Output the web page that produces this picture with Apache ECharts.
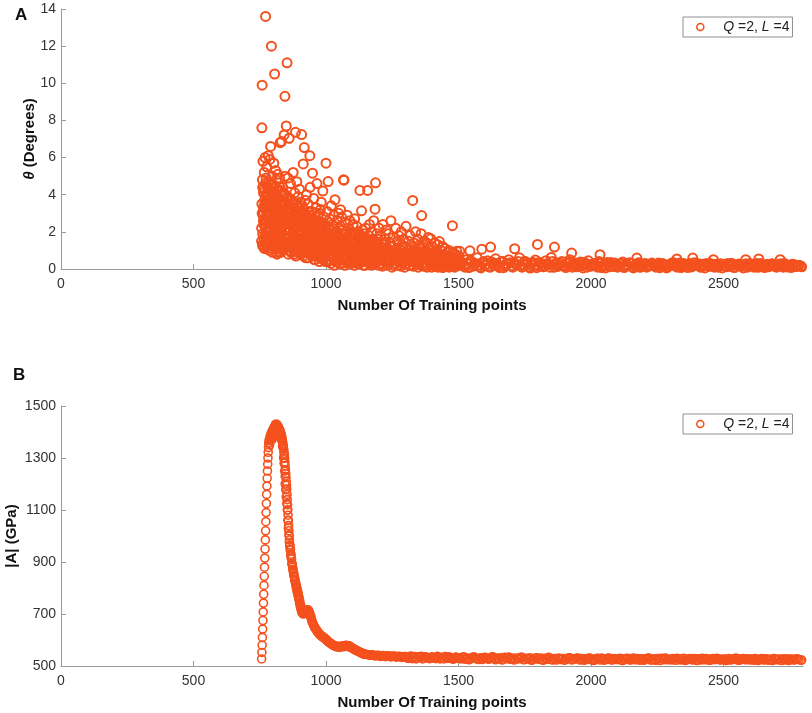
<!DOCTYPE html>
<html>
<head>
<meta charset="utf-8">
<script src="https://cdn.jsdelivr.net/npm/echarts@6/dist/echarts.min.js"></script>
<style>html,body{margin:0;padding:0;background:#fff}#c{width:812px;height:713px}</style>
</head>
<body>
<div id="c"></div>
<script>
// ---------- data ----------
const legendLabel = 'Q =2, L =4';
const xTicks = [0, 500, 1000, 1500, 2000, 2500];
const thetaTicks = [0, 2, 4, 6, 8, 10, 12, 14];
const modTicks = [500, 700, 900, 1100, 1300, 1500];

// theta (degrees) vs number of training points, panel A
const thetaA = [[757,2.2],[758,7.6],[759,9.9],[760,4.8],[761,1.9],[762,5.8],[763,3.1],[764,2.6],[765,4.3],[766,1.6],
[767,5.2],[768,3.7],[769,2.4],[770,6.0],[771,1.4],[772,13.6],[773,3.3],[774,4.9],[775,2.0],[776,5.5],
[777,1.2],[778,3.9],[779,2.8],[780,4.4],[781,1.7],[782,6.1],[783,3.0],[784,2.2],[785,4.7],[786,1.0],
[787,3.6],[788,5.9],[789,2.5],[790,1.4],[791,6.6],[792,4.1],[793,2.9],[794,12.0],[795,1.8],[796,3.4],
[797,5.0],[798,0.9],[799,2.7],[800,4.5],[801,3.8],[802,1.3],[803,5.7],[804,2.1],[805,3.2],[806,10.5],
[807,4.0],[808,1.6],[809,2.4],[810,5.3],[811,1.1],[812,3.5],[813,4.8],[814,2.6],[815,0.8],[816,3.9],
[817,1.9],[818,5.1],[819,2.9],[820,4.3],[821,1.2],[822,3.1],[823,2.2],[824,4.9],[825,1.5],[826,3.6],
[827,6.8],[828,2.8],[829,0.9],[830,4.2]];
const thetaA2 = [[758,3.5],[760,1.3],[762,2.9],[764,4.1],[766,3.3],[768,1.1],[770,2.7],[772,4.0],[774,1.5],[776,3.0],
[778,2.0],[780,1.2],[782,3.7],[784,4.3],[786,2.6],[788,1.8],[790,3.1],[792,2.0],[794,4.6],[796,1.1],
[798,3.8],[800,2.3],[802,4.2],[804,1.4],[806,2.8],[808,3.6],[810,1.9],[812,0.9],[814,4.0],[816,2.3],
[818,1.4],[820,3.3],[822,0.9],[824,2.0],[826,4.4],[828,1.7],[830,3.0]];
const thetaA3 = [[757,1.5],[759,3.0],[761,4.4],[763,1.2],[765,2.4],[767,3.4],[769,1.8],[771,4.6],[773,2.2],[775,3.6],
[777,2.5],[779,1.5],[781,4.0],[783,2.0],[785,3.0],[787,1.4],[789,4.2],[791,2.2],[793,3.5],[795,2.7],
[797,1.6],[799,3.9],[801,2.4],[803,1.8],[805,4.4],[807,2.7],[809,3.3],[811,2.0],[813,1.4],[815,3.0],
[817,4.2],[819,1.8],[821,2.6],[823,3.8],[825,2.4],[827,1.2],[829,3.4]];
const thetaB = [[832,6.86],[834,2.3],[836,4.4],[838,1.0],[840,3.0],[842,7.22],[844,1.8],[845,9.3],[846,5.0],[848,2.6],
[850,7.7],[851,1.3],[853,11.1],[854,3.3],[856,4.9],[858,0.8],[860,2.1],[861,7.04],[862,3.8],[864,1.5],
[866,4.6],[868,2.7],[870,0.9],[872,3.5],[874,1.9],[876,5.2],[878,2.4],[880,1.2],[882,4.1],[884,3.0],
[885,7.36],[886,0.7],[888,2.2],[890,4.7],[892,1.6],[894,3.3],[896,2.8],[898,1.0],[900,4.3],[902,2.0],
[904,3.6],[906,0.8],[908,7.24],[910,2.5],[912,1.4],[914,5.66],[916,3.2],[918,6.54],[920,1.8],[922,2.9],
[924,0.6],[926,4.0],[928,2.3],[930,1.2],[932,3.5],[934,1.7],[936,2.7],[938,0.9],[939,6.1],[940,4.4],
[942,2.1],[944,1.4],[946,3.1],[948,0.7],[949,5.16],[950,2.4],[952,1.8],[954,3.8],[956,1.1],[958,2.6],
[960,0.5],[962,3.3],[964,1.9],[966,4.6],[968,1.3],[970,2.2],[972,0.8],[974,3.0],[976,1.6],[978,2.5],
[980,0.6],[982,3.6],[984,1.2],[986,2.0],[988,4.2],[990,0.9],[992,2.8],[994,1.5],[996,2.3],[998,0.4],[1000,5.7]];
const thetaB2 = [[833,2.0],[835,3.4],[837,1.4],[839,2.8],[841,4.1],[843,1.1],[847,3.6],[849,2.2],[852,1.7],[855,3.9],
[857,2.5],[859,1.2],[863,3.1],[865,2.0],[867,0.9],[869,3.7],[871,1.6],[873,2.6],[875,1.3],[877,3.3],
[879,2.1],[881,0.8],[883,2.9],[887,1.7],[889,3.5],[891,1.1],[893,2.4],[895,3.9],[897,1.5],[899,2.7],
[901,0.9],[903,3.0],[905,1.8],[907,2.3],[909,1.2],[911,3.4],[913,2.0],[915,0.7],[917,2.6],[919,1.5],
[921,3.7],[923,2.1],[925,1.0],[927,2.8],[929,1.7],[931,0.6],[933,2.4],[935,3.1],[937,1.3],[941,1.9],
[943,2.9],[945,0.8],[947,2.2],[951,1.4],[953,2.7],[955,0.5],[957,1.9],[959,3.0],[961,1.2],[963,2.3],
[965,0.7],[967,1.6],[969,2.9],[971,1.0],[973,2.0],[975,0.4],[977,1.4],[979,3.2],[981,1.8],[983,0.9],
[985,2.5],[987,1.3],[989,0.5],[991,1.9],[993,2.4],[995,0.8],[997,1.6],[999,1.1]];
const thetaB3 = [[831,1.6],[833,3.7],[835,1.0],[837,2.6],[839,4.0],[841,1.5],[843,2.5],[847,1.2],[849,3.8],[852,2.8],
[855,1.6],[857,3.5],[859,2.2],[863,1.0],[865,3.0],[867,2.4],[869,1.3],[871,3.2],[873,1.1],[875,2.2],
[877,1.6],[879,3.5],[881,2.6],[883,1.4],[887,3.0],[889,1.2],[891,2.6],[893,1.9],[895,0.9],[897,3.3],
[899,1.8],[901,2.6],[903,1.2],[905,3.1],[907,1.6],[909,2.9],[911,0.9],[913,2.4],[915,1.7],[917,3.0],
[919,1.1],[921,2.2],[923,1.5],[925,2.7],[927,0.9],[929,2.5],[931,1.9],[933,1.1],[935,2.2],[937,0.8],
[941,2.6],[943,1.2],[945,2.0],[947,1.5],[951,2.5],[953,0.9],[955,1.7],[957,2.3],[959,1.0],[961,2.1],
[963,1.4],[965,2.6],[967,0.7],[969,1.8],[971,2.4],[973,1.2],[975,1.9],[977,0.8],[979,1.5],[981,2.2],
[983,1.6],[985,0.7],[987,2.0],[989,1.4],[991,0.6],[993,1.7],[995,2.1],[997,1.0],[999,1.8]];
const thetaC = [[1002,1.7],[1004,3.1],[1006,0.8],[1008,4.71],[1010,2.2],[1012,1.3],[1014,2.7],[1016,0.5],[1018,1.9],[1020,3.4],
[1022,1.0],[1024,2.4],[1026,0.7],[1028,1.6],[1030,2.9],[1032,1.2],[1034,3.73],[1036,0.4],[1038,2.0],[1040,1.4],
[1042,2.6],[1044,0.9],[1046,1.8],[1048,3.0],[1050,0.3],[1052,1.5],[1054,2.3],[1055,3.19],[1056,1.1],[1058,2.8],
[1060,0.6],[1062,1.7],[1064,2.1],[1066,4.8],[1068,4.78],[1070,1.3],[1072,2.5],[1074,0.5],[1076,1.9],[1078,1.0],
[1080,2.9],[1082,1.6],[1084,0.3],[1086,2.2],[1088,1.2],[1090,2.6],[1092,0.8],[1094,1.8],[1096,2.0],[1098,0.4],
[1100,1.4],[1102,2.4],[1104,1.1],[1106,0.6],[1108,2.7],[1110,1.5],[1112,0.9],[1114,1.9],[1116,2.3],[1118,0.3],
[1120,1.3],[1122,2.0],[1124,0.7],[1126,1.6],[1128,4.23],[1130,1.0],[1132,0.4],[1134,3.13],[1136,1.7],[1138,2.1],
[1140,0.6],[1142,1.2],[1144,1.9],[1146,0.2],[1148,1.4],[1150,2.2],[1152,0.8],[1154,1.5],[1157,4.23],[1158,1.1],
[1160,1.8],[1162,0.4],[1164,2.4],[1166,1.0],[1168,1.3],[1170,0.6],[1172,2.0],[1174,1.6],[1176,0.3],[1178,1.2],
[1180,2.6],[1182,0.9],[1185,3.22],[1187,4.64],[1188,1.4],[1190,0.5],[1192,1.9],[1194,1.1],[1196,0.7],[1198,1.6],[1200,2.2]];
const thetaC2 = [[1001,0.9],[1003,2.0],[1005,1.3],[1007,0.4],[1009,1.6],[1011,2.5],[1013,0.7],[1015,1.2],[1017,2.1],[1019,0.3],
[1021,1.5],[1023,1.9],[1025,0.6],[1027,1.1],[1029,2.3],[1031,0.2],[1033,1.4],[1035,1.8],[1037,0.8],[1039,1.0],
[1041,2.0],[1043,0.4],[1045,1.3],[1047,1.7],[1049,0.6],[1051,2.2],[1053,0.9],[1057,1.5],[1059,0.3],[1061,1.2],
[1063,1.9],[1065,0.5],[1067,1.0],[1069,1.6],[1071,0.2],[1073,1.4],[1075,2.0],[1077,0.7],[1079,1.1],[1081,0.4],
[1083,1.7],[1085,1.2],[1087,0.5],[1089,1.9],[1091,0.9],[1093,1.4],[1095,0.3],[1097,1.1],[1099,1.6],[1101,0.6],
[1103,1.0],[1105,1.8],[1107,0.2],[1109,1.3],[1111,0.8],[1113,1.5],[1115,0.4],[1117,1.1],[1119,1.7],[1121,0.6],
[1123,0.9],[1125,1.4],[1127,0.3],[1129,1.2],[1131,1.8],[1133,0.5],[1135,1.0],[1137,0.7],[1139,1.5],[1141,0.2],
[1143,1.1],[1145,0.8],[1147,1.6],[1149,0.4],[1151,1.0],[1153,1.3],[1155,0.6],[1159,0.9],[1161,1.5],[1163,0.3],
[1165,1.1],[1167,0.7],[1169,1.4],[1171,0.2],[1173,0.9],[1175,1.2],[1177,0.5],[1179,1.6],[1181,0.8],[1183,1.1],
[1184,0.3],[1186,1.3],[1189,0.6],[1191,1.0],[1193,0.4],[1195,1.4],[1197,0.9],[1199,0.2]];
const thetaD = [[1203,0.6],[1206,1.8],[1209,1.0],[1212,0.3],[1215,2.4],[1218,1.3],[1221,0.7],[1224,1.6],[1227,2.1],[1230,0.4],
[1233,1.1],[1236,1.9],[1239,0.8],[1242,1.4],[1245,2.6],[1248,0.5],[1251,1.2],[1254,1.7],[1257,0.2],[1260,1.0],
[1263,2.2],[1266,0.9],[1269,1.5],[1272,0.4],[1275,1.8],[1278,1.1],[1281,0.6],[1284,2.0],[1287,1.3],[1290,0.3],
[1293,1.6],[1296,0.8],[1299,1.2],[1302,2.3],[1305,0.5],[1308,1.0],[1311,1.5],[1314,0.2],[1317,1.8],[1320,0.7],
[1323,1.2],[1327,3.69],[1329,0.9],[1332,1.4],[1335,0.4],[1338,2.0],[1341,1.1],[1344,0.6],[1347,1.6],[1350,0.3],
[1353,1.3],[1356,0.8],[1359,1.9],[1361,2.88],[1362,0.5],[1365,1.2],[1368,0.9],[1371,1.5],[1374,0.2],[1377,1.0],
[1380,1.4],[1383,0.6],[1386,1.7],[1389,0.4],[1392,1.1],[1395,1.63],[1398,0.7],[1401,1.2],[1404,0.3],[1407,0.9],
[1410,1.4],[1413,0.5],[1416,1.0],[1419,0.2],[1422,1.3],[1425,0.7],[1428,1.48],[1431,0.4],[1434,1.0],[1437,0.6],
[1440,1.2],[1443,0.3],[1446,0.8],[1449,1.1],[1452,0.5],[1455,0.2],[1458,0.9],[1461,0.6],[1464,1.0],[1467,0.3],
[1470,0.7],[1473,0.5],[1477,2.33],[1479,0.9],[1482,0.2],[1485,0.6],[1488,0.8],[1491,0.4],[1494,0.95],[1497,0.3],[1500,0.7]];
const thetaD2 = [[1201,0.9],[1204,0.3],[1207,1.2],[1210,0.6],[1213,0.15],[1216,0.9],[1219,1.4],[1222,0.4],[1225,0.8],[1228,1.1],
[1231,0.2],[1234,0.7],[1237,1.0],[1240,0.35],[1243,0.6],[1246,1.2],[1249,0.1],[1252,0.8],[1255,0.5],[1258,1.0],
[1261,0.3],[1264,0.6],[1267,1.1],[1270,0.2],[1273,0.7],[1276,0.45],[1279,0.9],[1282,0.15],[1285,0.6],[1288,1.0],
[1291,0.4],[1294,0.7],[1297,0.1],[1300,0.9],[1303,0.5],[1306,0.3],[1309,0.8],[1312,0.55],[1315,1.0],[1318,0.2],
[1321,0.6],[1324,0.4],[1326,0.9],[1330,0.15],[1333,0.7],[1336,1.0],[1339,0.3],[1342,0.5],[1345,0.85],[1348,0.1],
[1351,0.6],[1354,0.4],[1357,0.9],[1360,0.2],[1363,0.7],[1366,0.5],[1369,0.15],[1372,0.8],[1375,0.35],[1378,0.6],
[1381,0.1],[1384,0.7],[1387,0.45],[1390,0.85],[1393,0.25],[1396,0.5],[1399,0.1],[1402,0.7],[1405,0.4],[1408,0.6],
[1411,0.15],[1414,0.75],[1417,0.35],[1420,0.5],[1423,0.1],[1426,0.6],[1429,0.3],[1432,0.7],[1435,0.2],[1438,0.45],
[1441,0.08],[1444,0.55],[1447,0.3],[1450,0.65],[1453,0.15],[1456,0.4],[1459,0.25],[1462,0.5],[1465,0.1],[1468,0.45],
[1471,0.3],[1474,0.6],[1476,0.15],[1480,0.4],[1483,0.55],[1486,0.1],[1489,0.35],[1492,0.6],[1495,0.2],[1498,0.45]];
const thetaE = [[1505,0.95],[1510,0.3],[1520,0.15],[1530,0.5],[1540,0.08],[1543,0.98],[1550,0.4],[1560,0.25],[1570,0.6],[1580,0.12],
[1588,1.07],[1590,0.35],[1600,0.2],[1610,0.45],[1620,0.1],[1621,1.18],[1630,0.3],[1640,0.55],[1650,0.18],[1660,0.38],
[1670,0.07],[1680,0.28],[1690,0.5],[1700,0.15],[1710,0.33],[1712,1.09],[1720,0.22],[1730,0.6],[1740,0.1],[1750,0.42],
[1760,0.26],[1770,0.05],[1780,0.36],[1790,0.48],[1798,1.32],[1800,0.18],[1810,0.3],[1820,0.12],[1830,0.45],[1840,0.24],
[1850,0.62],[1860,0.09],[1862,1.18],[1870,0.34],[1880,0.2],[1890,0.4],[1900,0.14],[1910,0.28],[1920,0.5],[1927,0.86],
[1930,0.1],[1940,0.32],[1950,0.2],[1960,0.38],[1970,0.06],[1980,0.26],[1990,0.44],[2000,0.15],[2010,0.3],[2020,0.18],
[2030,0.4],[2034,0.77],[2040,0.08],[2050,0.25],[2060,0.35],[2070,0.12],[2080,0.22],[2090,0.32],[2100,0.1],[2110,0.27],
[2120,0.38],[2130,0.14],[2140,0.2],[2150,0.3],[2160,0.06],[2170,0.24],[2173,0.59],[2180,0.34],[2190,0.16],[2200,0.28],
[2210,0.1],[2220,0.22],[2230,0.32],[2240,0.18],[2250,0.26],[2260,0.07],[2270,0.3],[2280,0.2],[2290,0.12],[2300,0.28],
[2310,0.35],[2320,0.15],[2324,0.54],[2330,0.24],[2340,0.08],[2350,0.3],[2360,0.19],[2370,0.27],[2380,0.11],[2384,0.59],
[2390,0.33],[2400,0.2],[2410,0.14],[2420,0.26],[2430,0.06],[2440,0.22],[2450,0.3],[2460,0.17],[2462,0.5],[2470,0.25],
[2480,0.1],[2490,0.28],[2500,0.19],[2510,0.12],[2520,0.24],[2530,0.31],[2540,0.08],[2550,0.2],[2560,0.27],[2570,0.15],
[2580,0.22],[2584,0.5],[2590,0.1],[2600,0.29],[2610,0.18],[2620,0.25],[2630,0.09],[2633,0.54],[2640,0.3],[2650,0.16],
[2660,0.23],[2670,0.12],[2680,0.27],[2690,0.2],[2700,0.1],[2710,0.24],[2714,0.5],[2720,0.15],[2730,0.3],[2740,0.11],
[2750,0.2],[2760,0.26],[2770,0.13],[2780,0.18],[2792,0.16]];
const thetaE2x = [1505,1515,1525,1535,1545,1555,1565,1575,1585,1595,1605,1615,1625,1635,1645,1655,1665,1675,1685,1695,
1705,1715,1725,1735,1745,1755,1765,1775,1785,1795,1805,1815,1825,1835,1845,1855,1865,1875,1885,1895,
1905,1915,1925,1935,1945,1955,1965,1975,1985,1995,2005,2015,2025,2035,2045,2055,2065,2075,2085,2095,
2105,2115,2125,2135,2145,2155,2165,2175,2185,2195,2205,2215,2225,2235,2245,2255,2265,2275,2285,2295,
2305,2315,2325,2335,2345,2355,2365,2375,2385,2395,2405,2415,2425,2435,2445,2455,2465,2475,2485,2495,
2505,2515,2525,2535,2545,2555,2565,2575,2585,2595,2605,2615,2625,2635,2645,2655,2665,2675,2685,2695,
2705,2715,2725,2735,2745,2755,2765,2775,2785,2795];
const thetaE2y = [0.2,0.35,0.1,0.28,0.45,0.15,0.3,0.22,0.06,0.4, 0.25,0.12,0.38,0.2,0.3,0.08,0.42,0.18,0.26,0.34,
0.1,0.28,0.4,0.16,0.24,0.35,0.12,0.3,0.2,0.07, 0.36,0.22,0.15,0.3,0.1,0.4,0.25,0.14,0.32,0.2,
0.08,0.35,0.2,0.27,0.12,0.3,0.18,0.36,0.1,0.24, 0.2,0.28,0.1,0.32,0.16,0.06,0.26,0.35,0.14,0.22,
0.18,0.3,0.08,0.24,0.34,0.12,0.2,0.28,0.09,0.22, 0.3,0.14,0.2,0.26,0.1,0.32,0.16,0.24,0.06,0.2,
0.2,0.27,0.1,0.32,0.16,0.22,0.08,0.3,0.18,0.24, 0.28,0.09,0.2,0.3,0.14,0.22,0.1,0.26,0.17,0.06,
0.2,0.3,0.14,0.22,0.1,0.26,0.18,0.06,0.28,0.16, 0.24,0.1,0.3,0.16,0.22,0.08,0.26,0.18,0.28,0.14,
0.2,0.28,0.1,0.22,0.16,0.08,0.24,0.14,0.2,0.12];

// |A| (GPa) vs number of training points, panel B
const modRise = [[757,527],[758,552],[759,580],[760,610],[761,642],[762,675],[763,708],[764,742],[765,776],[766,810],
[767,845],[768,880],[769,915],[770,950],[771,985],[772,1020],[773,1055],[774,1090],[775,1125],[776,1160],
[777,1192],[778,1222],[779,1250],[780,1276],[781,1300],[782,1322],[783,1340],[784,1356],[785,1368],[787,1350],
[789,1380],[791,1372],[793,1392],[795,1385],[797,1400],[799,1395],[801,1410],[803,1405],[805,1418],[807,1415],
[809,1425],[811,1428],[813,1428]];
const modPeak = [[786,1360],[788,1372],[790,1385],[792,1378],[794,1398],[796,1390],[798,1405],[800,1400],[802,1414],[804,1410],
[806,1422],[808,1420],[810,1430],[812,1425],[812,1412],[808,1402],[804,1392],[800,1380],[796,1370],[820,1405],
[826,1390],[832,1370],[836,1345],[840,1300],[842,1280],[844,1250],[846,1230]];
const modFall = [[816,1425],[819,1420],[822,1415],[825,1408],[828,1400],[830,1392],[832,1385],[834,1375],[836,1362],[838,1350],
[840,1335],[842,1318],[844,1300],[845,1285],[846,1270],[847,1255],[848,1240],[849,1225],[850,1210],[851,1195],
[852,1180],[853,1160],[854,1140],[855,1120],[856,1100],[857,1080],[858,1060],[859,1040],[860,1020],[861,1000],
[862,985],[864,965],[866,950],[868,930],[870,912],
[872,892],[874,880],[876,868],[878,856],[880,845],[883,832],[886,818],[889,805],[892,792],[895,780],
[898,765],[901,750],[904,735],[907,722],[910,712],[913,705],[916,704],[920,706],[924,709],[928,711],
[932,712],[936,708],[939,700],[942,690],[945,680],[948,670],[952,660],[956,652],[960,645],[965,638],
[970,630],[975,624],[980,619],[985,615],[990,611],[995,607],[1000,603],[1005,598],[1010,593],[1015,589],
[1020,585],[1025,582],[1030,579],[1035,577],[1040,576],[1045,575],[1050,575],[1055,574],[1060,575],[1065,576],
[1070,577],[1075,578],[1080,578],[1085,577],[1090,575],[1095,572],[1100,569],[1105,566],[1110,563],[1115,560],
[1120,557],[1125,555],[1130,552],[1135,550],[1140,548],[1145,546],[1150,545],[1160,543],[1170,542],[1180,541],
[1190,540],[1200,540],[1210,539],[1220,539],[1230,538],[1240,538],[1250,537],[1260,537],[1270,536],[1280,536],[1290,535]];
const modFall2 = [[814,1430],[818,1422],[821,1418],[824,1410],[827,1404],[829,1396],[831,1388],[833,1380],[835,1368],[837,1356],
[839,1342],[841,1326],[843,1310],[846,1200],[848,1178],[850,1150],[852,1125],[854,1100],[856,1060],[858,1030],
[860,1005],[862,975],[863,960],
[865,945],[867,925],[869,915],[871,895],[873,888],[875,872],[877,862],[879,848],[881,842],[882,830],
[884,826],[885,818],[887,810],[888,800],[890,798],[891,786],[893,785],[894,772],[896,770],[897,758],
[899,755],[900,742],[902,740],[903,728],[905,726],[906,716],[908,714],[909,706],[911,703],[914,700],
[918,702],[922,705],[926,714],[930,716],[934,715],[938,704],[940,695],[943,688],[946,674],[950,665],
[954,655],[958,646],[962,642],[967,632],[972,626],[977,620],[982,616],[987,611],[992,609],[997,603],
[1002,600],[1007,594],[1012,591],[1017,586],[1022,584],[1027,579],[1032,577],[1037,575],[1042,573],[1047,574],
[1052,572],[1057,576],[1062,577],[1067,574],[1072,579],[1077,580],[1082,575],[1087,578],[1092,572],[1097,570],
[1102,567],[1107,563],[1112,561],[1117,558],[1122,556],[1127,553],[1132,551],[1137,548],[1142,546],[1147,545],
[1155,544],[1165,541],[1175,543],[1185,539],[1195,541],[1205,537],[1215,540],[1225,536],[1235,539],[1245,535],
[1255,538],[1265,534],[1275,537],[1285,533],[1295,536]];
const modTailX = [1300,1310,1320,1330,1340,1350,1360,1370,1380,1390,1400,1410,1420,1430,1440,1450,1460,1470,1480,1490,
1500,1510,1520,1530,1540,1550,1560,1570,1580,1590,1600,1610,1620,1630,1640,1650,1660,1670,1680,1690,
1700,1710,1720,1730,1740,1750,1760,1770,1780,1790,1800,1810,1820,1830,1840,1850,1860,1870,1880,1890,
1900,1910,1920,1930,1940,1950,1960,1970,1980,1990,2000,2010,2020,2030,2040,2050,2060,2070,2080,2090,
2100,2110,2120,2130,2140,2150,2160,2170,2180,2190,2200,2210,2220,2230,2240,2250,2260,2270,2280,2290,
2300,2310,2320,2330,2340,2350,2360,2370,2380,2390,2400,2410,2420,2430,2440,2450,2460,2470,2480,2490,
2500,2510,2520,2530,2540,2550,2560,2570,2580,2590,2600,2610,2620,2630,2640,2650,2660,2670,2680,2690,
2700,2710,2720,2730,2740,2750,2760,2770,2780,2792];
const modTailY = [536,529,538,532,527,535,537,530,533,528, 535,530,537,527,533,536,529,531,526,534,
532,527,535,529,524,531,534,528,530,525, 533,527,531,535,524,529,532,526,530,534,
527,523,531,528,533,525,529,532,524,530, 526,531,522,528,533,525,529,523,530,527,
522,529,532,524,527,531,523,528,526,530, 524,521,529,527,531,522,526,530,523,528,
525,530,521,527,529,523,531,524,526,528, 522,528,530,523,525,529,521,527,531,524,
526,529,522,528,524,530,523,527,525,529, 521,526,530,524,527,522,529,525,528,523,
527,521,529,524,526,530,522,527,525,528, 523,526,529,521,527,524,528,522,526,529,
524,527,521,525,528,523,526,524,527,522];
const modTail2X = [1305,1315,1325,1335,1345,1355,1365,1375,1385,1395,1405,1415,1425,1435,1445,1455,1465,1475,1485,1495,
1505,1515,1525,1535,1545,1555,1565,1575,1585,1595,1605,1615,1625,1635,1645,1655,1665,1675,1685,1695,
1705,1715,1725,1735,1745,1755,1765,1775,1785,1795,1805,1815,1825,1835,1845,1855,1865,1875,1885,1895,
1905,1915,1925,1935,1945,1955,1965,1975,1985,1995,2005,2015,2025,2035,2045,2055,2065,2075,2085,2095,
2105,2115,2125,2135,2145,2155,2165,2175,2185,2195,2205,2215,2225,2235,2245,2255,2265,2275,2285,2295,
2305,2315,2325,2335,2345,2355,2365,2375,2385,2395,2405,2415,2425,2435,2445,2455,2465,2475,2485,2495,
2505,2515,2525,2535,2545,2555,2565,2575,2585,2595,2605,2615,2625,2635,2645,2655,2665,2675,2685,2695,
2705,2715,2725,2735,2745,2755,2765,2775,2785,2795];
const modTail2Y = [531,534,528,536,530,533,527,535,531,529, 532,528,534,530,527,533,535,528,531,529,
529,533,526,531,527,534,528,525,532,529, 530,526,534,528,531,527,523,533,528,526,
531,526,528,533,524,530,527,522,529,532, 528,524,530,526,531,523,527,530,525,529,
526,531,524,528,530,525,529,522,527,531, 527,524,530,523,528,526,531,524,529,525,
528,522,526,530,524,528,525,529,522,527, 526,531,523,528,522,527,530,524,528,525,
523,527,530,524,528,521,526,529,523,527, 528,523,526,529,522,527,525,530,524,526,
524,528,523,527,530,522,526,529,524,527, 527,522,526,524,529,523,527,525,521,526,
526,522,528,524,521,527,523,528,525,523];

// ---------- chart ----------
const C = '#F4511E';
const FONT = 'Liberation Sans, Arial, Helvetica, sans-serif';
const zip = (xs, ys) => xs.map((x, i) => [x, ys[i]]);
const thetaData = [].concat(thetaA, thetaA2, thetaA3, thetaB, thetaB2, thetaB3, thetaC, thetaC2, thetaD, thetaD2, thetaE, zip(thetaE2x, thetaE2y));
const modData = [].concat(modRise, modPeak, modFall, modFall2, zip(modTailX, modTailY), zip(modTail2X, modTail2Y));

function xAxisCfg(gi) {
  return {
    type: 'value', gridIndex: gi, min: 0, max: 2800,
    name: 'Number Of Training points', nameLocation: 'middle', nameGap: 29,
    nameTextStyle: { fontFamily: FONT, fontWeight: 'bold', fontSize: 15, color: '#111' },
    axisLine: { show: true, lineStyle: { color: '#9a9a9a', width: 1 } },
    axisTick: { show: true, inside: true, length: 5, customValues: xTicks, lineStyle: { color: '#9a9a9a' } },
    axisLabel: { customValues: xTicks, fontFamily: FONT, fontSize: 14, color: '#333', margin: 8,
      formatter: v => (v > 2500 ? '' : String(v)) },
    splitLine: { show: false }
  };
}
function legendCfg(top) {
  return {
    left: 683, top: top, orient: 'horizontal', selectedMode: false,
    borderColor: '#8f8f8f', borderWidth: 1, backgroundColor: '#fff',
    padding: [3, 3, 3, 13], itemWidth: 30, itemHeight: 7,
    data: [{ name: legendLabel, icon: 'circle', itemStyle: { color: '#fff', borderColor: C, borderWidth: 1.6 } }],
    formatter: () => '{i|Q} =2, {i|L} =4',
    textStyle: { fontFamily: FONT, fontSize: 14, color: '#222', padding: [0, 0, 0, 3],
      rich: { i: { fontFamily: FONT, fontSize: 14, fontStyle: 'italic', color: '#222' } } }
  };
}

const chart = echarts.init(document.getElementById('c'), null, { renderer: 'canvas' });
chart.setOption({
  animation: false,
  backgroundColor: '#fff',
  title: [
    { text: 'A', left: 10, top: 2, textStyle: { fontFamily: FONT, fontWeight: 'bold', fontSize: 17, color: '#111' } },
    { text: 'B', left: 8, top: 362, textStyle: { fontFamily: FONT, fontWeight: 'bold', fontSize: 17, color: '#111' } }
  ],
  grid: [
    { left: 61, right: 9, top: 9, height: 260, outerBoundsMode: 'none', containLabel: false },
    { left: 61, right: 9, top: 406, height: 260, outerBoundsMode: 'none', containLabel: false }
  ],
  legend: [legendCfg(17), legendCfg(414)],
  xAxis: [xAxisCfg(0), xAxisCfg(1)],
  yAxis: [
    { type: 'value', gridIndex: 0, min: 0, max: 14, interval: 2,
      name: '{t|θ} (Degrees)', nameLocation: 'middle', nameGap: 24, nameMoveOverlap: false,
      nameTextStyle: { fontFamily: FONT, fontWeight: 'bold', fontSize: 15, color: '#111',
        rich: { t: { fontFamily: FONT, fontWeight: 'bold', fontStyle: 'italic', fontSize: 15, color: '#111' } } },
      axisLine: { show: true, lineStyle: { color: '#9a9a9a' } },
      axisTick: { show: true, inside: true, length: 5, lineStyle: { color: '#9a9a9a' } },
      axisLabel: { fontFamily: FONT, fontSize: 14, color: '#333', margin: 5 },
      splitLine: { show: false } },
    { type: 'value', gridIndex: 1, min: 500, max: 1500,
      name: '|A| (GPa)', nameLocation: 'middle', nameGap: 42, nameMoveOverlap: false,
      nameTextStyle: { fontFamily: FONT, fontWeight: 'bold', fontSize: 15, color: '#111' },
      axisLine: { show: true, lineStyle: { color: '#9a9a9a' } },
      axisTick: { show: true, inside: true, length: 5, customValues: modTicks, lineStyle: { color: '#9a9a9a' } },
      axisLabel: { customValues: modTicks, fontFamily: FONT, fontSize: 14, color: '#333', margin: 5,
        formatter: v => String(v) },
      splitLine: { show: false } }
  ],
  series: [
    { type: 'scatter', name: legendLabel, xAxisIndex: 0, yAxisIndex: 0, data: thetaData,
      symbol: 'circle', symbolSize: 9, silent: true, large: false,
      itemStyle: { color: 'rgba(255,255,255,0)', borderColor: C, borderWidth: 2, opacity: 1 } },
    { type: 'scatter', name: legendLabel, xAxisIndex: 1, yAxisIndex: 1, data: modData,
      symbol: 'circle', symbolSize: 8, silent: true, large: false,
      itemStyle: { color: 'rgba(255,255,255,0)', borderColor: C, borderWidth: 1.6, opacity: 1 } }
  ]
});
</script>
</body>
</html>
